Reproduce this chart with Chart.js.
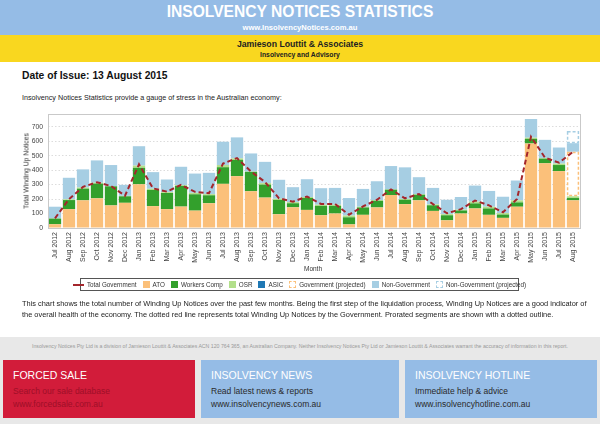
<!DOCTYPE html>
<html>
<head>
<meta charset="utf-8">
<script src="https://cdn.jsdelivr.net/npm/chart.js@4"></script>
<style>
  html,body{margin:0;padding:0;}
  body{width:600px;height:424px;position:relative;overflow:hidden;background:#fff;font-family:"Liberation Sans",Arial,Helvetica,sans-serif;color:#222;}
  .abs{position:absolute;}
  #hdr{left:0;top:0;width:600px;height:35px;background:#95bce6;}
  #ttl{left:0;top:3px;width:600px;text-align:center;color:#fff;font-weight:bold;font-size:15.6px;line-height:18px;}
  #url{left:0;top:23px;width:600px;text-align:center;color:#fff;font-weight:bold;font-size:7.6px;line-height:9px;}
  #yel{left:0;top:35px;width:600px;height:27px;background:#f9d71f;}
  #jla{left:0;top:39px;width:600px;text-align:center;color:#222;font-weight:bold;font-size:8.7px;line-height:11px;}
  #adv{left:0;top:51px;width:600px;text-align:center;color:#222;font-weight:bold;font-size:6.8px;line-height:8px;}
  #date{left:22px;top:69px;font-weight:bold;font-size:10.3px;line-height:13px;color:#111;}
  #intro{left:22px;top:93px;font-size:7.2px;line-height:9px;color:#222;}
  #chartwrap{left:0;top:105px;width:600px;height:172px;}
  #ytitle{left:26px;top:171px;transform:translate(-50%,-50%) rotate(-90deg);font-size:6.8px;color:#333;white-space:nowrap;}
  #xtitle{left:313px;top:265px;transform:translateX(-50%);font-size:6.5px;color:#333;}
  #legend{left:80px;top:278px;width:437px;height:11px;border:1px solid #555;display:flex;align-items:center;justify-content:center;font-size:6.3px;color:#333;white-space:nowrap;}
  .li{display:flex;align-items:center;margin:0 3px;}
  .sw{width:7px;height:7px;margin-right:3px;box-sizing:border-box;}
  .ln{width:11px;height:0;border-top:2px dashed #a4262c;margin-right:3px;}
  #para{left:22px;top:298px;width:570px;font-size:7.4px;line-height:11px;color:#222;}
  #foot{left:0;top:337px;width:600px;height:87px;background:#e8e8e8;}
  #disc{left:0;top:343px;width:600px;text-align:center;font-size:5.2px;color:#999;}
  .box{position:absolute;top:360px;height:58px;}
  .box .t{position:absolute;left:10px;top:9px;font-size:10.5px;color:#fff;}
  .box .a{position:absolute;left:10px;top:26px;font-size:8.5px;}
  .box .b{position:absolute;left:10px;top:39px;font-size:8.5px;}
</style>
</head>
<body>
<div id="hdr" class="abs"></div>
<div id="ttl" class="abs">INSOLVENCY NOTICES STATISTICS</div>
<div id="url" class="abs">www.InsolvencyNotices.com.au</div>
<div id="yel" class="abs"></div>
<div id="jla" class="abs">Jamieson Louttit &amp; Associates</div>
<div id="adv" class="abs">Insolvency and Advisory</div>
<div id="date" class="abs">Date of Issue: 13 August 2015</div>
<div id="intro" class="abs">Insolvency Notices Statistics provide a gauge of stress in the Australian economy:</div>

<div id="chartwrap" class="abs"><canvas id="c" width="600" height="172"></canvas></div>
<div id="ytitle" class="abs">Total Winding Up Notices</div>
<div id="xtitle" class="abs">Month</div>

<div id="legend" class="abs">
  <div class="li"><div class="ln"></div>Total Government</div>
  <div class="li"><div class="sw" style="background:#fbc07a"></div>ATO</div>
  <div class="li"><div class="sw" style="background:#33a02c"></div>Workers Comp</div>
  <div class="li"><div class="sw" style="background:#b2df8a"></div>OSR</div>
  <div class="li"><div class="sw" style="background:#1f78b4"></div>ASIC</div>
  <div class="li"><div class="sw" style="background:#fff;border:1px dashed #fbc07a"></div>Government (projected)</div>
  <div class="li"><div class="sw" style="background:#a6cee3"></div>Non-Government</div>
  <div class="li"><div class="sw" style="background:#fff;border:1px dashed #a6cee3"></div>Non-Government (projected)</div>
</div>

<div id="para" class="abs">This chart shows the total number of Winding Up Notices over the past few months. Being the first step of the liquidation process, Winding Up Notices are a good indicator of the overall health of the economy. The dotted red line represents total Winding Up Notices by the Government. Prorated segments are shown with a dotted outline.</div>

<div id="foot" class="abs"></div>
<div id="disc" class="abs">Insolvency Notices Pty Ltd is a division of Jamieson Louttit &amp; Associates ACN 120 764 365, an Australian Company. Neither Insolvency Notices Pty Ltd or Jamieson Louttit &amp; Associates warrant the accuracy of information in this report.</div>
<div class="box" style="left:3px;width:192px;background:#d21c3a;">
  <div class="t">FORCED SALE</div>
  <div class="a" style="color:#9e0f28">Search our sale database</div>
  <div class="b" style="color:#9e0f28">www.forcedsale.com.au</div>
</div>
<div class="box" style="left:201px;width:198px;background:#95bce6;">
  <div class="t">INSOLVENCY NEWS</div>
  <div class="a" style="color:#2a2a2a">Read latest news &amp; reports</div>
  <div class="b" style="color:#2a2a2a">www.insolvencynews.com.au</div>
</div>
<div class="box" style="left:405px;width:192px;background:#95bce6;">
  <div class="t">INSOLVENCY HOTLINE</div>
  <div class="a" style="color:#2a2a2a">Immediate help &amp; advice</div>
  <div class="b" style="color:#2a2a2a">www.insolvencyhotline.com.au</div>
</div>

<script>
const months = ["Jul 2012","Aug 2012","Sep 2012","Oct 2012","Nov 2012","Dec 2012",
  "Jan 2013","Feb 2013","Mar 2013","Apr 2013","May 2013","Jun 2013","Jul 2013","Aug 2013","Sep 2013","Oct 2013","Nov 2013","Dec 2013",
  "Jan 2014","Feb 2014","Mar 2014","Apr 2014","May 2014","Jun 2014","Jul 2014","Aug 2014","Sep 2014","Oct 2014","Nov 2014","Dec 2014",
  "Jan 2015","Feb 2015","Mar 2015","Apr 2015","May 2015","Jun 2015","Jul 2015","Aug 2015"];

const ato = [26,130,191,205,156,174, 302,151,130,148,120,171,305,358,254,210,95,143,
  125,88,100,25,91,142,228,165,191,118,53,100, 135,91,70,147,584,447,393,191];
const workersComp = [39,63,81,102,132,45, 114,112,112,143,113,55,115,113,134,90,99,28,
  83,65,53,49,51,46,37,30,39,39,35,21, 35,44,23,30,32,32,42,16];
const osr = [2,5,8,6,2,3, 15,8,6,5,10,8,15,10,2,10,8,8,
  6,8,8,12,5,5,2,6,4,6,8,6, 12,12,10,14,8,5,10,12];
const asic = [0,0,0,0,0,0, 0,0,0,0,0,0,0,0,0,0,0,0,
  0,0,0,0,0,0,0,0,0,0,0,0, 0,0,0,0,0,0,0,0];
const govProjected = [null,null,null,null,null,null, null,null,null,null,null,null,null,null,null,null,null,null,
  null,null,null,null,null,null,null,null,null,null,null,null, null,null,null,null,null,null,null,307];
const nonGov = [80,149,125,154,145,76, 134,115,87,127,133,147,161,145,125,147,131,103,
  123,114,116,121,123,130,161,218,117,114,99,87, 111,109,113,137,129,125,111,60];
const nonGovProjected = [null,null,null,null,null,null, null,null,null,null,null,null,null,null,null,null,null,null,
  null,null,null,null,null,null,null,null,null,null,null,null, null,null,null,null,null,null,null,84];
const totalGov = [67,200,284,316,290,223, 440,274,251,298,250,240,445,483,390,318,205,182,
  217,166,166,92,149,195,267,205,235,165,102,130, 190,156,109,200,630,486,451,526];
const yTicks = [0,100,200,300,400,500,600,700];

const dashPlugin = {
  id: 'dashOutline',
  afterDatasetDraw(chart, args) {
    const ds = chart.data.datasets[args.index];
    if (!ds.dashColor) return;
    const ctx = chart.ctx;
    args.meta.data.forEach((el, j) => {
      if (ds.data[j] == null) return;
      const p = el.getProps(['x','y','base','width'], true);
      const top = Math.min(p.y, p.base), h = Math.abs(p.base - p.y);
      ctx.save();
      ctx.setLineDash([3,2]);
      ctx.strokeStyle = ds.dashColor;
      ctx.lineWidth = 1.5;
      ctx.strokeRect(p.x - p.width/2 + 0.75, top + 0.75, p.width - 1.5, h - 1.5);
      ctx.restore();
    });
  }
};
const boxPlugin = {
  id: 'plotBox',
  afterDraw(chart) {
    const a = chart.chartArea, ctx = chart.ctx;
    ctx.save();
    ctx.strokeStyle = '#c9c9c9';
    ctx.lineWidth = 1;
    ctx.strokeRect(Math.round(a.left)+0.5, Math.round(a.top)+0.5, Math.round(a.right-a.left), Math.round(a.bottom-a.top));
    ctx.restore();
  }
};

Chart.defaults.font.family = '"Liberation Sans", Arial, sans-serif';
const barCommon = {type:'bar', stack:'s', order:1, barPercentage:1, categoryPercentage:0.88, borderWidth:0};

new Chart(document.getElementById('c'), {
  data: {
    labels: months,
    datasets: [
      {...barCommon, label:'ATO', data:ato, backgroundColor:'#fbc07a'},
      {...barCommon, label:'Workers Comp', data:workersComp, backgroundColor:'#33a02c'},
      {...barCommon, label:'OSR', data:osr, backgroundColor:'#b2df8a'},
      {...barCommon, label:'ASIC', data:asic, backgroundColor:'#1f78b4'},
      {...barCommon, label:'Government (projected)', data:govProjected, backgroundColor:'#ffffff', dashColor:'#fbc07a'},
      {...barCommon, label:'Non-Government', data:nonGov, backgroundColor:'#a6cee3'},
      {...barCommon, label:'Non-Government (projected)', data:nonGovProjected, backgroundColor:'#ffffff', dashColor:'#a6cee3'},
      {type:'line', label:'Total Government', data:totalGov, stack:'line', order:0,
       borderColor:'#a4262c', borderWidth:2, borderDash:[5,3], pointRadius:0, tension:0, fill:false}
    ]
  },
  options: {
    responsive:false, animation:false, devicePixelRatio:1,
    layout:{padding:{top:9,right:20,left:0,bottom:0}},
    plugins:{legend:{display:false}, tooltip:{enabled:false}},
    scales:{
      x:{stacked:true, grid:{display:false, drawTicks:false}, border:{display:false},
         ticks:{autoSkip:false, maxRotation:90, minRotation:90, padding:4, color:'#444', font:{size:7}},
         afterFit(s){ s.height = 49; }},
      y:{stacked:true, min:0, max:787,
         grid:{color:'#dcdcdc', drawTicks:false, lineWidth:1}, border:{display:false, dash:[1.5,2]},
         afterBuildTicks(s){ s.ticks = yTicks.map(v => ({value:v})); },
         ticks:{padding:5, color:'#444', font:{size:6.8}},
         afterFit(s){ s.width = 48; }}
    }
  },
  plugins:[dashPlugin, boxPlugin]
});
</script>
</body>
</html>
